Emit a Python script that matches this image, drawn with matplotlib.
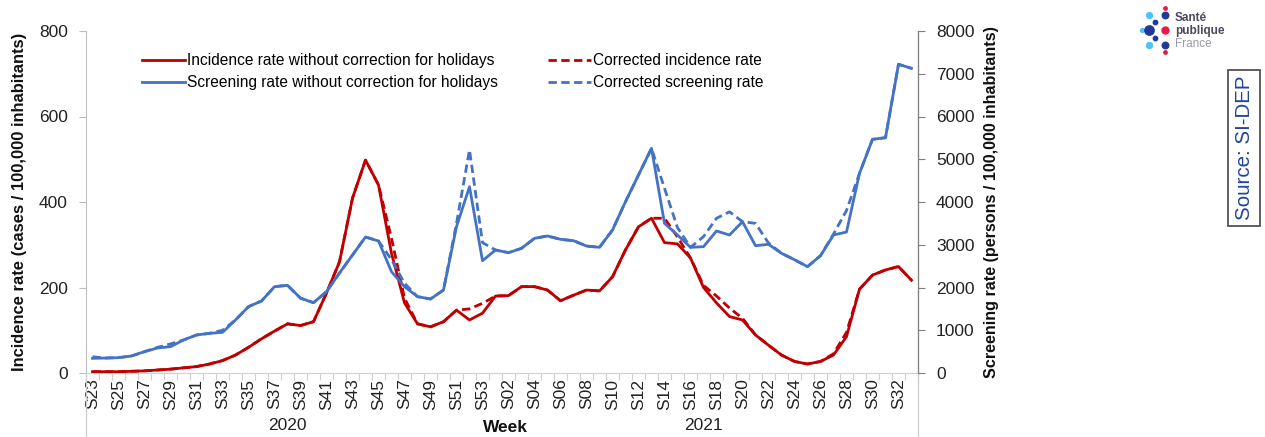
import matplotlib
matplotlib.use("Agg")
import matplotlib.pyplot as plt
import matplotlib.transforms as mtransforms
from matplotlib.lines import Line2D
import numpy as np

plt.rcParams['font.family'] = ['Liberation Sans', 'DejaVu Sans']

# ---------------- data ----------------
weeks = ["S%02d" % w for w in range(23, 54)] + ["S%02d" % w for w in range(1, 34)]
years = ["2020", "2021"]
year_spans = [(0, 30), (31, 63)]

incidence = [3, 3, 3, 4, 5, 7, 9, 12, 15, 21, 29, 42, 60, 80, 98, 115,
             111, 120, 187, 260, 409, 498, 440, 280, 164, 115, 108, 120, 147, 124, 140,
             180, 181, 202, 202, 194, 169, 182, 194, 192, 225, 288, 342, 362, 305, 302,
             269, 200, 164, 132, 124, 89, 65, 42, 27, 21, 27, 42, 85, 196, 229, 241, 249, 217]
incidence_corr = [3, 3, 3, 4, 5, 7, 9, 12, 15, 21, 29, 42, 60, 80, 98, 115,
                  111, 120, 187, 260, 409, 498, 440, 315, 175, 115, 108, 120, 147, 150, 163,
                  180, 181, 202, 202, 194, 169, 182, 194, 192, 225, 288, 342, 362, 362, 318,
                  269, 205, 180, 152, 128, 89, 65, 42, 27, 21, 27, 45, 95, 196, 229, 241, 249, 217]
screening = [343, 350, 359, 398, 499, 585, 616, 772, 889, 928, 951, 1240, 1552, 1684, 2019, 2051,
             1750, 1645, 1903, 2339, 2760, 3181, 3088, 2370, 2019, 1786, 1731, 1942, 3423, 4358, 2627,
             2877, 2815, 2916, 3150, 3205, 3127, 3095, 2970, 2940, 3345, 4007, 4632, 5256, 3502, 3228,
             2940, 2955, 3322, 3228, 3540, 2978, 3010, 2800, 2650, 2487, 2744, 3228, 3298, 4671, 5466,
             5504, 7221, 7127]
screening_corr = [380, 350, 359, 398, 499, 600, 680, 772, 889, 928, 1000, 1240, 1552, 1684, 2019, 2051,
                  1750, 1645, 1903, 2339, 2760, 3181, 3088, 2650, 2100, 1786, 1731, 1942, 3500, 5220, 3050,
                  2877, 2815, 2916, 3150, 3205, 3127, 3095, 2970, 2940, 3345, 4007, 4632, 5256, 4320, 3400,
                  2940, 3190, 3620, 3770, 3540, 3500, 3040, 2800, 2650, 2487, 2744, 3250, 3800, 4671, 5466,
                  5504, 7221, 7127]

RED = "#C00000"
BLUE = "#4472C4"

W, H = 1265, 437
fig = plt.figure(figsize=(W / 100, H / 100), dpi=100)
L, R, T, B = 86, 918, 31, 373
ax = fig.add_axes([L / W, 1 - B / H, (R - L) / W, (B - T) / H])
ax2 = ax.twinx()

x = np.arange(len(weeks))
ax.plot(x, incidence_corr, color=RED, lw=2.0, ls=(0, (3, 1.6)), zorder=2)
ax.plot(x, incidence, color=RED, lw=2.0, zorder=3)
ax2.plot(x, screening_corr, color=BLUE, lw=2.0, ls=(0, (3, 1.6)), zorder=2)
ax2.plot(x, screening, color=BLUE, lw=2.0, zorder=3)

ax.set_xlim(-0.5, len(weeks) - 0.5)
ax.set_ylim(0, 800)
ax2.set_ylim(0, 8000)
ax.set_yticks([0, 200, 400, 600, 800])
ax2.set_yticks(range(0, 8001, 1000))

for a in (ax, ax2):
    a.spines['top'].set_visible(False)
ax.spines['left'].set_color('#BFBFBF')
ax.spines['bottom'].set_color('#D0D0D0')
ax2.spines['left'].set_visible(False)
ax2.spines['bottom'].set_visible(False)
ax2.spines['right'].set_color('#7F7F7F')

ax.tick_params(axis='y', labelsize=12.5, length=5, color='#BFBFBF', pad=8, labelcolor='#222222')
ax2.tick_params(axis='y', labelsize=12.5, length=5, color='#7F7F7F', pad=8, labelcolor='#222222')

# category axis: tick marks at boundaries, labels every other week
ax.set_xticks(np.arange(-0.5, len(weeks), 1))
ax.set_xticklabels([])
ax.tick_params(axis='x', which='major', length=5, color='#D0D0D0')
ax.set_xticks(x[::2], minor=True)
ax.set_xticklabels(weeks[::2], minor=True, rotation=90, fontsize=12.5, color='#222222')
ax.tick_params(axis='x', which='minor', length=0, pad=4)

ax.set_ylabel("Incidence rate (cases / 100,000 inhabitants)", fontsize=11.9,
              fontweight='bold', labelpad=9, color='#111111')
ax2.set_ylabel("Screening rate (persons / 100,000 inhabitants)", fontsize=11.6,
               fontweight='bold', labelpad=7, color='#111111')

# year row and dividers
trans = mtransforms.blended_transform_factory(ax.transData, fig.transFigure)
for lab, (a, b) in zip(years, year_spans):
    ax.text((a + b) / 2, 1 - 425 / H, lab, transform=trans, ha='center', va='center',
            fontsize=12.5, color='#222222')
ax.text(len(weeks) / 2 - 0.5 + 0.3, 1 - 428 / H, "Week", transform=trans, ha='center',
        va='center', fontsize=12.5, fontweight='bold', color='#111111')
for xv in (-0.5, len(weeks) - 0.5):
    ax.plot([xv, xv], [1 - B / H, 0], transform=trans, color='#D0D0D0', lw=1, clip_on=False)

# legend
handles = [Line2D([], [], color=RED, lw=2),
           Line2D([], [], color=BLUE, lw=2),
           Line2D([], [], color=RED, lw=2, ls=(0, (3, 1.6))),
           Line2D([], [], color=BLUE, lw=2, ls=(0, (3, 1.6)))]
labels = ["Incidence rate without correction for holidays",
          "Screening rate without correction for holidays",
          "Corrected incidence rate",
          "Corrected screening rate"]
fig.legend(handles, labels, ncol=2, loc='upper left',
           bbox_to_anchor=(142 / W, 1 - 53 / H), frameon=False, fontsize=11.2,
           handlelength=2.75, handletextpad=0.15, columnspacing=3.2, labelspacing=0.45,
           borderpad=0, borderaxespad=0)

# logo
dots = [(1149, 15, '#4FC3F7', 18), (1165, 15, '#1F3A9A', 22), (1165, 8, '#E8194B', 6),
        (1155, 22, '#1F3A9A', 10), (1142, 30, '#4FC3F7', 8), (1149, 30, '#1F3A9A', 45),
        (1165, 30, '#E8194B', 25), (1155, 38, '#1F3A9A', 10), (1149, 45, '#4FC3F7', 18),
        (1165, 45, '#1F3A9A', 22), (1165, 52, '#E8194B', 6)]
for px, py, c, s in dots:
    fig.add_artist(Line2D([px / W], [1 - py / H], marker='o', markersize=np.sqrt(s),
                          color=c, lw=0, transform=fig.transFigure))
fig.text(1175 / W, 1 - 18 / H, "Santé", fontsize=8.5, fontweight='bold', color='#4A4A5A', va='center')
fig.text(1175 / W, 1 - 31 / H, "publique", fontsize=8.5, fontweight='bold', color='#4A4A5A', va='center')
fig.text(1175 / W, 1 - 44 / H, "France", fontsize=8.5, color='#9A9AA6', va='center')

# source box
fig.text(1244 / W, 1 - 148 / H, "Source: SI-DEP", rotation=90, fontsize=14.8, color='#2144A0',
         ha='center', va='center',
         bbox=dict(boxstyle='square,pad=0.3', fc='white', ec='#444444', lw=1.2))

fig.savefig("out.png", dpi=100)
